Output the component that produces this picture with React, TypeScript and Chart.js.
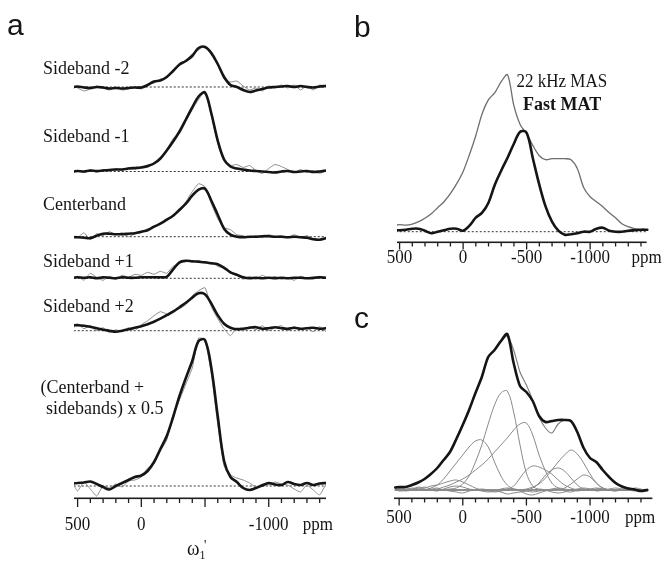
import React, { useEffect, useRef } from "react";
import { Chart, registerables } from "chart.js";

Chart.register(...registerables);

// ---------- shared chemical-shift grid (ppm) ----------
const ppm = [530, 500, 450, 400, 350, 300, 250, 200, 150, 100, 50, 0, -50, -100, -150, -200, -250, -300, -350, -400, -450, -500, -550, -600, -650, -700, -750, -800, -850, -900, -950, -1000, -1050, -1100, -1150, -1200, -1250, -1300, -1350, -1400, -1450];

// ---------- panel a : MAT slices (fit = thick, raw = thin grey) ----------
const sbm2Fit = [0, 0.5, -0.5, -1, 0, -0.5, -1.5, -1, -1.5, -1, -0.5, -0.5, 2, 5.5, 6.5, 10, 16, 22.5, 26, 31, 39, 40, 34, 23, 10, 2, 0, -3, -5, -3.5, -2, -0.5, 0, 0.5, 1, 0, 1, 0, -0.5, 0.5, 1];
const sbm2Raw = [1, -1, -4, -2, 1, -1, -3, 0, -3, -2, 0, -2, 3, 4, 8, 9, 17, 22, 27, 33, 37, 41, 32, 22, 8, 5, 6, 1, -3, -1, -4, 1, -1, 2, -1, 2, -3, 1, -3, 2, 0];
const sbm1Fit = [0, 0.5, 0, 1, 0.5, 1, 1.5, 2, 2, 3, 3.5, 4, 5.5, 8, 13, 21, 30, 40, 52, 64, 75, 79, 58, 31, 12, 5, 3, 2, 1, 0.5, 0, -0.5, -1, 0, 0.5, -0.5, 0, 0.5, -0.5, 0, 1];
const sbm1Raw = [-1, 1, -1, 2, -1, 2, 0, 3, 1, 4, 2, 5, 4, 9, 12, 22, 33, 38, 50, 62, 72, 80, 56, 28, 10, 6, 7, 4, 6, 1, -2, 3, 7, 5, 2, -1, 2, -1, 1, -2, 1];
const cbFit = [-0.5, -0.5, -1, -1.5, 1, 3, 3, 2.5, 2.5, 3, 3.5, 5, 6.5, 10, 13, 17, 21, 27, 33, 41, 47, 48, 36, 22, 8, 2, 0, -0.5, 0, 0, 0.5, 0.5, 0, 0, -0.5, 0, -0.5, -1, -2.5, -3, -1.5];
const cbRaw = [0, -1, 4, -3, 3, 1, 5, 2, 4, 0, 3, 4, 8, 9, 14, 16, 22, 25, 35, 45, 53, 50, 33, 18, 9, 7, 2, 1, -1, 1, -1, 2, 0, 1, -1, 2, -1, 1, -2, -3, -1];
const sbp1Fit = [0.5, 1, 0.5, 1, 0, 1, 0.5, 0, 1, 0.5, 0.5, 1, 1, 1, 1, 1.5, 9, 16, 17.5, 17, 16.5, 16, 15, 14, 10.5, 6, 3.5, 1, 0, 0.5, 0, 0.5, 0, 0.5, 0, 0.5, 0.5, 0, 0.5, 1, 0.5];
const sbp1Raw = [0, 2, -2, 5, 1, -2, 2, -1, 3, 1, 4, 3, 6, 4, 7, 5, 12, 15, 18, 16, 18, 15, 16, 12, 10, 5, 4, -1, 2, -1, 3, 0, 2, -1, 1, -2, 2, 0, -1, 2, 0];
const sbp2Fit = [5.5, 5.5, 5, 4, 2.5, 1, 0, -1, 0, 1.5, 3, 4.5, 6.5, 9, 12, 15.5, 19, 23.5, 28, 33, 37.5, 36.5, 27, 15.5, 7, 3, 1.5, 2, 3, 3.5, 2, 2.5, 3.5, 2.5, 2, 3, 2, 2.5, 3, 2, 2.5];
const sbp2Raw = [3, 7, 2, 5, 0, 3, -2, 1, -1, 3, 0, 6, 10, 15, 19, 17, 20, 22, 26, 35, 40, 43, 24, 12, 2, -5, 3, 0, 4, 1, 5, 0, 3, 5, 0, 4, 1, 3, -1, 4, -1];
const sumFit = [2.5, 3, 3.5, 4.5, 2, -1, -3.5, 0, 3, 6, 9, 10.5, 15, 24, 37, 50, 69, 90, 108, 125, 145, 146, 118, 70, 25, 9, 4, -2, -4, -2, 0.5, 3, 1.5, 1, 4, 2, 1, 3, 1, 2.5, 3];
const sumRaw = [1, -5, 4, -3, -10, 0, -2, 2, -1, 5, 6, 9, 18, 22, 35, 46, 70, 86, 102, 118, 148, 146, 112, 62, 20, 11, 8, 6, 3, -1, 2, 1, 4, 2, 1, -3, -6, 1, -4, -9, 2];
const sliceNames = ["Sideband -2", "Sideband -1", "Centerband", "Sideband +1", "Sideband +2"];
const sumNameLines = ["(Centerband +", "sidebands) x 0.5"];
const stackOffsets = [411, 326.5, 261.3, 219.7, 167.3, 12];

// ---------- panel b : 22 kHz MAS vs fast MAT ----------
const masSpectrum = [6.5, 7, 6.5, 7.5, 10, 13.5, 18, 24, 30, 38, 48, 60, 77, 96, 118, 132, 139, 150, 157, 126, 107, 98, 86, 76, 72, 73, 73, 73, 72, 63, 44, 35, 30, 25, 19, 14, 8, 5, 3, 2, 1.5];
const matSpectrum = [1.5, 1.5, 2, 3, 3, 1, -1.5, 0, 1.5, 3, 3, 1, 6, 14, 19, 29, 47, 61, 74, 88, 100, 99, 73, 47, 25, 10, 1, -3, -2.5, -1.5, 0, 0, 3, 4, 1, 0, 0, 1, 1.5, 2, 2];
const panelBNames = ["22 kHz MAS", "Fast MAT"];

// ---------- panel c : deconvolution ----------
const cExperimental = [2.5, 3, 3, 5, 7.5, 11, 16, 22, 30, 38, 51, 65, 80, 97, 113, 133, 140, 149, 156, 127, 104, 98, 89, 74, 68, 69, 70, 70, 69, 58, 42, 32, 28, 20, 13, 7, 3.5, 1.5, 0.5, -1, 0];
const cFitTotal = [1, 1.5, 3, 5, 8, 11, 16, 22, 30, 39, 52, 66, 81, 97, 114, 132, 140, 148, 154, 140, 118, 105, 90, 73, 62, 57, 66, 70, 69, 58, 42, 32, 27, 20, 13, 8, 4, 2, 1, 0, 0];
const cSiteA = [0, 0, 0, 0, 0, 0, 0, 0, 0.5, 1, 2, 6, 14, 28, 45, 66, 85, 97, 99, 78, 45, 17, 4, 0.5, 0, 0, 0, 0, 0, 0, 0, 0, 0, 0, 0, 0, 0, 0, 0, 0, 0];
const cSiteB = [0, 0, 0, 0, 0, 0, 2, 5, 11, 19, 27, 35, 43, 49, 50, 43, 28, 14, 5, 1, 0, 0, 0, 0, 0, 0, 0, 0, 0, 0, 0, 0, 0, 0, 0, 0, 0, 0, 0, 0, 0];
const cSiteC = [0, 0, 0, 0, 0, 0, 0.5, 1, 3, 5, 8, 11, 15, 20, 25, 31, 38, 45, 52, 60, 66, 67, 55, 35, 19, 7, 2, 0, 0, 0, 0, 0, 0, 0, 0, 0, 0, 0, 0, 0, 0];
const cSiteD = [0, 0, 0, 0, 0, 0, 0, 0, 0, 0, 0, 0, 0, 0, 0, 0, 0, 0, 0, 0, 0, 1, 3, 6, 12, 20, 28, 35, 40, 36, 27, 16, 7, 2, 0, 0, 0, 0, 0, 0, 0];
const cSiteE = [0, 0, 0, 0, 0, 0, 0, 0, 0, 0, 0, 0, 0, 0, 0, 0, 0, 0, 1, 4, 12, 20, 24, 23, 20, 16, 10, 5, 2, 0, 0, 0, 0, 0, 0, 0, 0, 0, 0, 0, 0];
const cSiteF = [0, 0, 0, 0, 0, 0, 0, 0, 0, 0, 0, 0, 0, 0, 0, 0, 0, 0, 0, 0, 0, 0, 2, 7, 15, 20, 22, 19, 12, 5, 1, 0, 0, 0, 0, 0, 0, 0, 0, 0, 0];
const cSiteG = [0, 0, 0, 0, 0, 0, 0, 0, 0, 0, 0, 0, 0, 0, 0, 0, 0, 0, 0, 0, 0, 0, 0, 0, 0, 0, 0, 2, 6, 11, 15, 13, 7, 2, 0, 0, 0, 0, 0, 0, 0];
const cSiteH = [0, 1, 2, 1, 3, 2, 4, 5, 7, 9, 10, 8, 5, 2, 0, -1, -2, -1, 0, 1, 0, -1, -2, -1, 0, 1, 2, 1, 0, -1, 0, 1, 2, 1, 0, -1, 0, 1, 0, -1, 0];
const cSiteI = [1, -1, 0, 2, 1, 3, 1, 2, 0, -1, -2, -3, -1, 0, 1, 0, -1, -2, -4, -3, -2, -1, 0, 1, 0, -2, -3, -2, 0, 1, 2, 1, -1, 0, 1, 2, 1, 0, -1, 0, 1];
const cSiteJ = [2, 0, -1, 0, 2, 1, 0, -1, 1, 3, 4, 3, 1, 0, -1, -2, -1, 1, 2, 1, -1, -4, -5, -3, -1, 0, 1, -1, -2, 0, 1, 0, 1, 2, 0, -1, 1, 0, 2, 1, -1];
const baselineB = 10.3;
const baselineC = 8;

// ---------- axis ticks ----------
const minorTicks = [500, 400, 300, 200, 100, 0, -100, -200, -300, -400, -500, -600, -700, -800, -900, -1000, -1100, -1200, -1300, -1400];
const majorTicks = [500, 0, -500, -1000];
const tickLabelsA = ["500", "0", "-1000"];
const tickLabelValuesA = [500, 0, -1000];
const tickLabelsBC = ["500", "0", "-500", "-1000"];
const tickLabelValuesBC = [500, 0, -500, -1000];
const unitLabel = "ppm";

const SERIF = '"Liberation Serif", "Times New Roman", serif';
const SANS = '"Liberation Sans", Arial, sans-serif';
const INK = "#151515";
const GREY = "#8c8c8c";

type Txt = { text: string; x: number; y: number; font: string; align?: CanvasTextAlign; sy?: number; color?: string };
type Series = { values: number[]; offset: number; color: string; width: number; tension: number; order: number };
type AxisCfg = {
  from: number; to: number; majorLen: number; minorLen: number;
  labelValues: number[]; labels: string[]; unitValue: number; labelY: number; font: string;
};

function drawText(ctx: CanvasRenderingContext2D, t: Txt) {
  ctx.save();
  ctx.font = t.font;
  ctx.fillStyle = t.color ?? INK;
  ctx.textAlign = t.align ?? "left";
  ctx.textBaseline = "alphabetic";
  ctx.translate(t.x, t.y);
  ctx.scale(1, t.sy ?? 1.1);
  ctx.fillText(t.text, 0, 0);
  ctx.restore();
}

function lineSet(s: Series) {
  return {
    data: ppm.map((p, i) => ({ x: p, y: s.offset + s.values[i] })),
    borderColor: s.color,
    borderWidth: s.width,
    tension: s.tension,
    pointRadius: 0,
    fill: false,
    order: s.order,
    borderCapStyle: "round" as const,
    borderJoinStyle: "round" as const,
  };
}

function baseSet(offset: number) {
  return {
    data: [
      { x: ppm[0], y: offset },
      { x: ppm[ppm.length - 1], y: offset },
    ],
    borderColor: "#333",
    borderWidth: 1,
    borderDash: [2, 2],
    pointRadius: 0,
    fill: false,
    order: 5,
  };
}

type PanelProps = {
  left: number; top: number; width: number; height: number;
  padding: { left: number; right: number; top: number; bottom: number };
  xMin: number; xMax: number; yMax: number;
  datasets: any[]; axis: AxisCfg; texts: Txt[];
};

function Panel(p: PanelProps) {
  const ref = useRef<HTMLCanvasElement>(null);
  useEffect(() => {
    const canvas = ref.current;
    if (!canvas) return;
    const axisPlugin = {
      id: "spectrumAxis",
      afterDraw(chart: any) {
        const ctx: CanvasRenderingContext2D = chart.ctx;
        const xs = chart.scales.x;
        const yb = Math.round(chart.chartArea.bottom);
        ctx.save();
        ctx.setLineDash([]);
        ctx.fillStyle = "#1e1e1e";
        const x0 = xs.getPixelForValue(p.axis.from);
        const x1 = xs.getPixelForValue(p.axis.to);
        ctx.fillRect(Math.min(x0, x1), yb - 0.5, Math.abs(x1 - x0), 1.6);
        for (const v of minorTicks) {
          const x = xs.getPixelForValue(v);
          const len = majorTicks.includes(v) ? p.axis.majorLen : p.axis.minorLen;
          ctx.fillRect(x - 0.6, yb, 1.3, len);
        }
        ctx.restore();
        p.axis.labelValues.forEach((v, i) => {
          drawText(ctx, { text: p.axis.labels[i], x: xs.getPixelForValue(v), y: p.axis.labelY, font: p.axis.font, align: "center", sy: 1.15 });
        });
        drawText(ctx, { text: unitLabel, x: xs.getPixelForValue(p.axis.unitValue), y: p.axis.labelY, font: p.axis.font, align: "center", sy: 1.15 });
        for (const t of p.texts) drawText(ctx, t);
      },
    };
    const chart = new Chart(canvas, {
      type: "line",
      data: { datasets: p.datasets },
      options: {
        responsive: false,
        animation: false,
        devicePixelRatio: 1,
        layout: { padding: p.padding },
        plugins: { legend: { display: false }, tooltip: { enabled: false }, title: { display: false } },
        scales: {
          x: { type: "linear", min: p.xMin, max: p.xMax, reverse: true, display: false },
          y: { type: "linear", min: 0, max: p.yMax, display: false },
        },
      },
      plugins: [axisPlugin],
    } as any);
    return () => chart.destroy();
  }, []);
  return (
    <canvas
      ref={ref}
      width={p.width}
      height={p.height}
      style={{ position: "absolute", left: p.left, top: p.top, width: p.width, height: p.height }}
    />
  );
}

export default function App() {
  const fitStyle = { color: INK, width: 2.6, tension: 0.35, order: 0 };
  const rawStyle = { color: GREY, width: 1, tension: 0.15, order: 1 };

  const fits = [sbm2Fit, sbm1Fit, cbFit, sbp1Fit, sbp2Fit, sumFit];
  const raws = [sbm2Raw, sbm1Raw, cbRaw, sbp1Raw, sbp2Raw, sumRaw];
  const aSets: any[] = [];
  fits.forEach((f, i) => {
    aSets.push(lineSet({ values: f, offset: stackOffsets[i], ...fitStyle }));
    aSets.push(lineSet({ values: raws[i], offset: stackOffsets[i], ...rawStyle }));
    aSets.push(baseSet(stackOffsets[i]));
  });
  const labelY = [74, 141.7, 210, 266.7, 311.7];
  const aTexts: Txt[] = [
    { text: "a", x: 7, y: 35, font: `30px ${SANS}`, sy: 1 },
    ...sliceNames.map((n, i) => ({ text: n, x: 43, y: labelY[i], font: `18px ${SERIF}` })),
    { text: sumNameLines[0], x: 40.5, y: 393, font: `18px ${SERIF}` },
    { text: sumNameLines[1], x: 46, y: 414, font: `18px ${SERIF}` },
    { text: "ω", x: 187, y: 555, font: `19px ${SERIF}` },
    { text: "1", x: 199.5, y: 559, font: `12px ${SERIF}` },
    { text: "'", x: 204, y: 550, font: `13px ${SERIF}` },
  ];

  const bSets = [
    lineSet({ values: matSpectrum, offset: baselineB, color: INK, width: 2.6, tension: 0.35, order: 0 }),
    lineSet({ values: masSpectrum, offset: baselineB, color: "#6e6e6e", width: 1.3, tension: 0.3, order: 1 }),
    baseSet(baselineB),
  ];
  const bTexts: Txt[] = [
    { text: "b", x: 14, y: 37, font: `30px ${SANS}`, sy: 1 },
    { text: panelBNames[0], x: 176.5, y: 86.5, font: `17px ${SERIF}` },
    { text: panelBNames[1], x: 183, y: 110, font: `bold 18px ${SERIF}` },
  ];

  const compStyle = { color: "#8a8a8a", width: 1, tension: 0.35, order: 2 };
  const comps = [cSiteA, cSiteB, cSiteC, cSiteD, cSiteE, cSiteF, cSiteG, cSiteH, cSiteI, cSiteJ];
  const cSets: any[] = [
    lineSet({ values: cExperimental, offset: baselineC, color: INK, width: 2.6, tension: 0.3, order: 0 }),
    lineSet({ values: cFitTotal, offset: baselineC, color: "#7a7a7a", width: 1.1, tension: 0.3, order: 1 }),
    ...comps.map((c) => lineSet({ values: c, offset: baselineC, ...compStyle })),
    baseSet(baselineC),
  ];
  const cTexts: Txt[] = [{ text: "c", x: 14, y: 38, font: `30px ${SANS}`, sy: 1 }];

  return (
    <div style={{ position: "absolute", left: 0, top: 0, width: 666, height: 562, background: "#fff" }}>
      <Panel
        left={0} top={0} width={340} height={562}
        padding={{ left: 74, right: 14, top: 30, bottom: 64 }}
        xMin={-1450} xMax={528} yMax={468}
        datasets={aSets}
        axis={{ from: 528, to: -1450, majorLen: 9, minorLen: 5, labelValues: tickLabelValuesA, labels: tickLabelsA, unitValue: -1386, labelY: 530, font: `17px ${SERIF}` }}
        texts={aTexts}
      />
      <Panel
        left={340} top={0} width={326} height={290}
        padding={{ left: 57, right: 13, top: 40, bottom: 48 }}
        xMin={-1495} xMax={520} yMax={202}
        datasets={bSets}
        axis={{ from: 520, to: -1445, majorLen: 7.5, minorLen: 4.5, labelValues: tickLabelValuesBC, labels: tickLabelsBC, unitValue: -1445, labelY: 263, font: `17px ${SERIF}` }}
        texts={bTexts}
      />
      <Panel
        left={340} top={290} width={326} height={272}
        padding={{ left: 54, right: 13, top: 20, bottom: 64 }}
        xMin={-1495} xMax={540} yMax={188}
        datasets={cSets}
        axis={{ from: 540, to: -1490, majorLen: 7.5, minorLen: 4.5, labelValues: tickLabelValuesBC, labels: tickLabelsBC, unitValue: -1394, labelY: 233, font: `17px ${SERIF}` }}
        texts={cTexts}
      />
    </div>
  );
}
